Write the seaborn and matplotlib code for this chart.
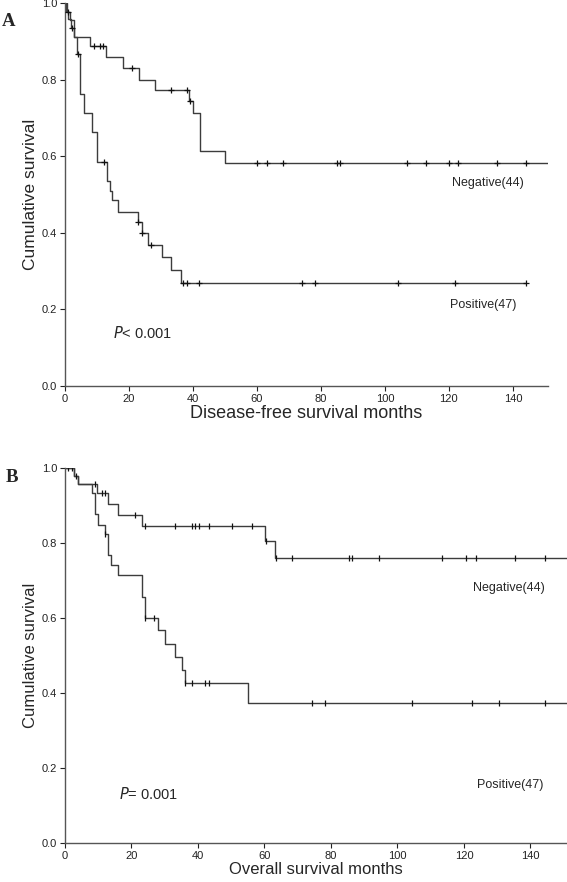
import numpy as np
import pandas as pd
import matplotlib
matplotlib.use("Agg")
import matplotlib.pyplot as plt
import seaborn as sns

# Panel A - disease-free survival, step times (months) and survival levels
dfs_neg_t = [0, 0.5, 1.5, 2.9, 7.8, 12.7, 18.2, 23.0, 28.0, 38.8, 39.9, 42.2, 50.0, 151]
dfs_neg_s = [1.0, 0.977, 0.955, 0.911, 0.888, 0.859, 0.830, 0.800, 0.772, 0.743, 0.713, 0.614, 0.581, 0.581]
dfs_neg_cens = [0.8, 9.2, 10.9, 12.0, 21.0, 33.0, 38.2, 39.0, 60.1, 63.0, 68.0, 85.1, 85.9,
                107, 113, 120, 122.9, 134.9, 144]

dfs_pos_t = [0, 0.3, 0.9, 1.8, 2.9, 3.9, 4.7, 5.9, 8.3, 9.9, 13.0, 14.0, 14.6, 16.6,
             22.9, 24.0, 26.0, 30.2, 33.1, 36.2, 144]
dfs_pos_s = [1.0, 0.979, 0.957, 0.936, 0.911, 0.867, 0.763, 0.713, 0.663, 0.586, 0.534,
             0.508, 0.486, 0.454, 0.427, 0.399, 0.368, 0.336, 0.302, 0.268, 0.268]
dfs_pos_cens = [2.3, 4.2, 12.2, 22.95, 24.05, 27.0, 36.9, 38.0, 42.0, 74.0, 78.0, 104, 122, 144]

# Panel B - overall survival
os_neg_t = [0, 2.8, 3.8, 9.5, 12.8, 16.0, 23.3, 60.3, 63.3, 151]
os_neg_s = [1.0, 0.979, 0.957, 0.932, 0.905, 0.875, 0.845, 0.804, 0.759, 0.759]
os_neg_cens = [1.0, 2.0, 3.2, 9.0, 11.0, 12.0, 21.0, 24.0, 33.2, 38.3, 39.2, 40.2, 43.2, 50.3,
               56.3, 60.35, 63.35, 68.3, 85.3, 86.3, 94.5, 113.5, 120.5, 123.5, 135.5, 144.5]

os_pos_t = [0, 2.8, 3.8, 8.0, 9.0, 10.0, 12.0, 13.0, 13.8, 16.0, 23.3, 24.0, 28.0, 30.2,
            33.2, 35.2, 36.2, 55.2, 151]
os_pos_s = [1.0, 0.979, 0.957, 0.932, 0.877, 0.848, 0.823, 0.768, 0.741, 0.715, 0.657,
            0.600, 0.568, 0.532, 0.497, 0.461, 0.426, 0.374, 0.374]
os_pos_cens = [12.05, 24.05, 26.9, 36.25, 38.2, 42.2, 43.2, 74.3, 78.3, 104.5, 122.5, 130.5, 144.5]

x_ticks = [0, 20, 40, 60, 80, 100, 120, 140]
y_ticks = [0.0, 0.2, 0.4, 0.6, 0.8, 1.0]

sns.set_style("ticks")
plt.rcParams['font.family'] = ['Liberation Sans', 'DejaVu Sans']

line_col = '#3c3c3c'


def km_panel(ax, curves, marker, msize):
    for t, s, cens in curves:
        sns.lineplot(x=t, y=s, drawstyle='steps-post', estimator=None, sort=False,
                     color=line_col, linewidth=1.0, ax=ax)
        idx = np.searchsorted(t, cens, side='right') - 1
        cy = np.array(s)[idx]
        sns.scatterplot(x=cens, y=cy, marker=marker, s=msize, color='#111111',
                        linewidth=0.9, ax=ax, zorder=3)
    ax.set_xlim(0, 151)
    ax.set_ylim(0, 1.0)
    ax.set_xticks(x_ticks)
    ax.set_yticks(y_ticks)
    ax.set_yticklabels([f"{v:.1f}" for v in y_ticks])
    ax.tick_params(axis='both', labelsize=8, length=3.5, width=0.8, pad=2,
                   colors='#222222')
    for sp in ['left', 'bottom']:
        ax.spines[sp].set_color('#555555')
        ax.spines[sp].set_linewidth(1.0)
    sns.despine(ax=ax)


fig = plt.figure(figsize=(5.67, 8.82), dpi=100)

# Panel A
axA = fig.add_axes([0.1146, 0.5624, 0.852, 0.4342])
km_panel(axA, [(dfs_neg_t, dfs_neg_s, dfs_neg_cens), (dfs_pos_t, dfs_pos_s, dfs_pos_cens)], '+', 16)
axA.set_xlabel('Disease-free survival months', fontsize=13, labelpad=1)
axA.set_ylabel('Cumulative survival', fontsize=12.5, labelpad=3)
axA.text(121, 0.531, 'Negative(44)', fontsize=9, va='center')
axA.text(120.3, 0.212, 'Positive(47)', fontsize=9, va='center')
axA.text(15, 0.139, r'$\it{P}$< 0.001', fontsize=10.5, va='center')
fig.text(0.003, 0.97, 'A', fontsize=13.5, fontweight='bold', family='Liberation Serif')

# Panel B
axB = fig.add_axes([0.1146, 0.0442, 0.8854, 0.4252])
km_panel(axB, [(os_neg_t, os_neg_s, os_neg_cens), (os_pos_t, os_pos_s, os_pos_cens)], '|', 14)
axB.set_xlabel('Overall survival months', fontsize=12, labelpad=1)
axB.set_ylabel('Cumulative survival', fontsize=12, labelpad=3)
axB.text(122.7, 0.68, 'Negative(44)', fontsize=9, va='center')
axB.text(124, 0.155, 'Positive(47)', fontsize=9, va='center')
axB.text(16.2, 0.13, r'$\it{P}$= 0.001', fontsize=10.5, va='center')
fig.text(0.01, 0.453, 'B', fontsize=13.5, fontweight='bold', family='Liberation Serif')

fig.savefig('out.png', dpi=100)
